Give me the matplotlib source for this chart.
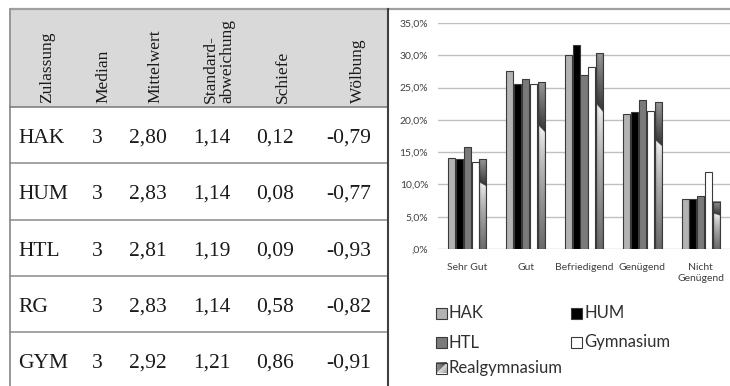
import numpy as np
import matplotlib
matplotlib.use("Agg")
import matplotlib.pyplot as plt
from matplotlib.patches import Rectangle

# ---- table data ----
zulassung = ["HAK", "HUM", "HTL", "RG", "GYM"]
median = [3, 3, 3, 3, 3]
mittelwert = [2.80, 2.83, 2.81, 2.83, 2.92]
standardabweichung = [1.14, 1.14, 1.19, 1.14, 1.21]
schiefe = [0.12, 0.08, 0.09, 0.58, 0.86]
woelbung = [-0.79, -0.77, -0.93, -0.82, -0.91]
header = ["Zulassung", "Median", "Mittelwert", "Standard-\nabweichung", "Schiefe", "Wölbung"]

# ---- chart data (percent) ----
noten = ["Sehr Gut", "Gut", "Befriedigend", "Genügend", "Nicht\nGenügend"]
hak = [14.1, 27.5, 30.1, 20.9, 7.7]
hum = [13.9, 25.5, 31.6, 21.2, 7.8]
htl = [15.8, 26.3, 27.0, 23.0, 8.2]
gymnasium = [13.4, 25.5, 28.2, 21.4, 11.9]
realgymnasium = [13.9, 25.8, 30.3, 22.7, 7.3]
serien = ["HAK", "HUM", "HTL", "Gymnasium", "Realgymnasium"]
yticks = [0, 5, 10, 15, 20, 25, 30, 35]

SERIF = "Liberation Serif"
SANS = "Lato"
W, H = 730, 386

fig = plt.figure(figsize=(W / 100, H / 100), dpi=100)
fig.patch.set_facecolor("white")

# pixel-coordinate canvas for the table and legend
bg = fig.add_axes([0, 0, 1, 1])
bg.set_xlim(0, W)
bg.set_ylim(H, 0)
bg.axis("off")


def de(v):
    return f"{v:.2f}".replace(".", ",")


# header band
bg.add_patch(Rectangle((10, 9), 378, 98, facecolor="#d9d9d9", edgecolor="none"))
bg.plot([10, W], [9, 9], color="#a0a0a0", lw=1.6, solid_capstyle="butt")
bg.plot([10, 10], [9, H], color="#909090", lw=1.3)
bg.plot([10, 388], [107, 107], color="#808080", lw=1.2)
for ys in [163, 220, 276, 332]:
    bg.plot([10, 388], [ys, ys], color="#8a8a8a", lw=1.1)
bg.plot([388, 388], [9, H], color="#404040", lw=1.5)

# rotated column headers
head_x = [47, 103, 155, 219, 283, 358]
for x, lab in zip(head_x, header):
    bg.text(x, 103, lab, rotation=90, rotation_mode="anchor", ha="left", va="center",
            family=SERIF, fontsize=12.5, color="#1a1a1a", linespacing=1.05)

# table rows
baselines = [143, 199, 256, 312, 368]
for i, yb in enumerate(baselines):
    kw = dict(family=SERIF, fontsize=15.5, color="#1a1a1a", va="baseline")
    bg.text(18, yb, zulassung[i], ha="left", **kw)
    bg.text(97, yb, str(median[i]), ha="center", **kw)
    bg.text(148, yb, de(mittelwert[i]), ha="center", **kw)
    bg.text(212, yb, de(standardabweichung[i]), ha="center", **kw)
    bg.text(275, yb, de(schiefe[i]), ha="center", **kw)
    bg.text(371, yb, de(woelbung[i]), ha="right", **kw)

# ---- bar chart ----
ax = fig.add_axes([438 / W, 1 - 249 / H, 292 / W, 226 / H])
ax.set_facecolor("none")
for s in ax.spines.values():
    s.set_visible(False)
ax.set_xlim(-0.5, 4.5)
ax.set_ylim(0, 35)
ax.set_yticks(yticks)


def pct(v):
    whole = "" if v == 0 else str(int(v))
    return f"{whole},{int(round((v % 1) * 10))}%"


ax.set_yticklabels([pct(v) for v in yticks])
ax.yaxis.grid(True, color="#c0c0c0", lw=1.0)
ax.set_axisbelow(True)
ax.tick_params(axis="y", length=0, pad=7, labelsize=7.5, labelcolor="#404040")
ax.tick_params(axis="x", length=0, pad=10, labelsize=7.5, labelcolor="#404040")
for lab in ax.get_yticklabels() + ax.get_xticklabels():
    lab.set_family(SANS)
ax.set_xticks(range(len(noten)))
ax.set_xticklabels(noten, linespacing=1.3)

x = np.arange(len(noten))
step, bw = 0.134, 0.12
edge = "#3a3a3a"
fills = ["#b3b3b3", "#000000", "#7a7a7a", "#ffffff", None]
values = [hak, hum, htl, gymnasium, realgymnasium]


def rg_image(nu=24, nt=240):
    u = np.linspace(0, 1, nu)
    t = np.linspace(0, 1, nt)
    U, T = np.meshgrid(u, t)
    tb = 0.72 + 0.05 * (0.5 - U)
    up = np.clip((T - tb) / (1 - tb), 0, 1)
    down = np.clip((tb - T) / tb, 0, 1)
    val = np.where(T > tb, 0.22 + 0.38 * up, 0.97 - 0.55 * down ** 0.7)
    val = val * (0.86 + 0.14 * np.sin(np.pi * U))
    return np.dstack([val, val, val])


img = rg_image()
for k, (vals, fc) in enumerate(zip(values, fills)):
    pos = x + (k - 2) * step
    if fc is not None:
        ax.bar(pos, vals, width=bw, color=fc, edgecolor=edge, linewidth=0.8, zorder=3)
    else:
        bars = ax.bar(pos, vals, width=bw, color="none", edgecolor=edge, linewidth=0.8, zorder=4)
        for b in bars:
            x0 = b.get_x()
            ax.imshow(img, extent=[x0, x0 + bw, 0, b.get_height()], origin="lower",
                      aspect="auto", zorder=3, interpolation="bilinear")
ax.set_xlim(-0.5, 4.5)
ax.set_ylim(0, 35)

# ---- legend ----
leg_items = [(436, 313), (571, 313), (436, 342), (571, 342), (436, 368)]
sq = 11
for (lx, ly), name, fc in zip(leg_items, serien, fills):
    if fc is not None:
        bg.add_patch(Rectangle((lx, ly - sq / 2), sq, sq, facecolor=fc, edgecolor=edge, lw=0.8))
    else:
        u = np.linspace(0, 1, 30)
        U, V = np.meshgrid(u, u)  # V grows downward on this canvas
        val = np.where(U + V > 1.05, 0.95 - 0.35 * V * U, 0.25 + 0.35 * (1 - U))
        bg.imshow(np.dstack([val] * 3), extent=[lx, lx + sq, ly + sq / 2, ly - sq / 2],
                  aspect="auto", interpolation="bilinear", zorder=2)
        bg.add_patch(Rectangle((lx, ly - sq / 2), sq, sq, facecolor="none", edgecolor=edge,
                               lw=0.8, zorder=3))
    bg.text(lx + sq + 2, ly + 0.5, name, ha="left", va="center", family=SANS,
            fontsize=12, color="#303030")
bg.set_xlim(0, W)
bg.set_ylim(H, 0)

fig.savefig("out.png", dpi=100, facecolor="white")
